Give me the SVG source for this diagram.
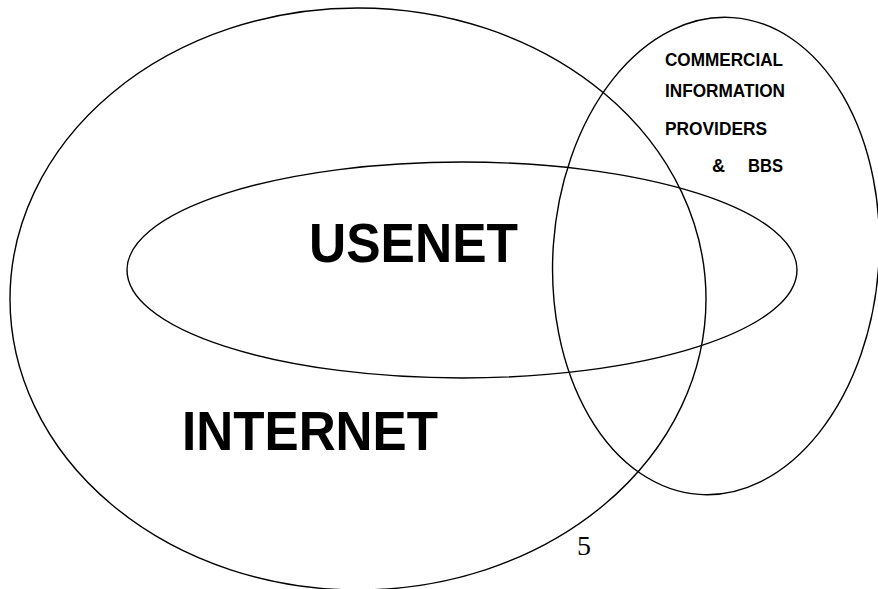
<svg xmlns="http://www.w3.org/2000/svg" width="878" height="589" viewBox="0 0 878 589">
<style>
.ring{fill:none;stroke:#000;stroke-width:1.4}
.big{font-family:"Liberation Sans",Arial,sans-serif;font-size:55px;fill:#000;font-weight:bold}
.small{font-family:"Liberation Sans",Arial,sans-serif;font-size:18px;fill:#000;font-weight:bold}
.num{font-family:"Liberation Serif","Times New Roman",serif;font-size:28px;fill:#000}
</style>
<rect width="878" height="589" fill="#fff"/>
<g id="internet">
<ellipse class="ring" cx="358" cy="299" rx="348" ry="291"/>
<text class="big" x="182" y="450" textLength="256" lengthAdjust="spacingAndGlyphs">INTERNET</text>
</g>
<g id="usenet">
<ellipse class="ring" cx="462" cy="270" rx="335" ry="108"/>
<text class="big" x="309" y="262" textLength="209" lengthAdjust="spacingAndGlyphs">USENET</text>
</g>
<g id="commercial">
<ellipse class="ring" cx="716" cy="256" rx="163" ry="239" transform="rotate(4 716 256)"/>
<text class="small" x="665" y="66" textLength="118" lengthAdjust="spacingAndGlyphs">COMMERCIAL</text>
<text class="small" x="665" y="97" textLength="120" lengthAdjust="spacingAndGlyphs">INFORMATION</text>
<text class="small" x="665" y="135" textLength="102" lengthAdjust="spacingAndGlyphs">PROVIDERS</text>
<text class="small" x="712" y="172">&amp;</text>
<text class="small" x="748" y="172" textLength="35" lengthAdjust="spacingAndGlyphs">BBS</text>
</g>
<g id="connectors"></g>
<text class="num" x="577" y="555">5</text>
</svg>
